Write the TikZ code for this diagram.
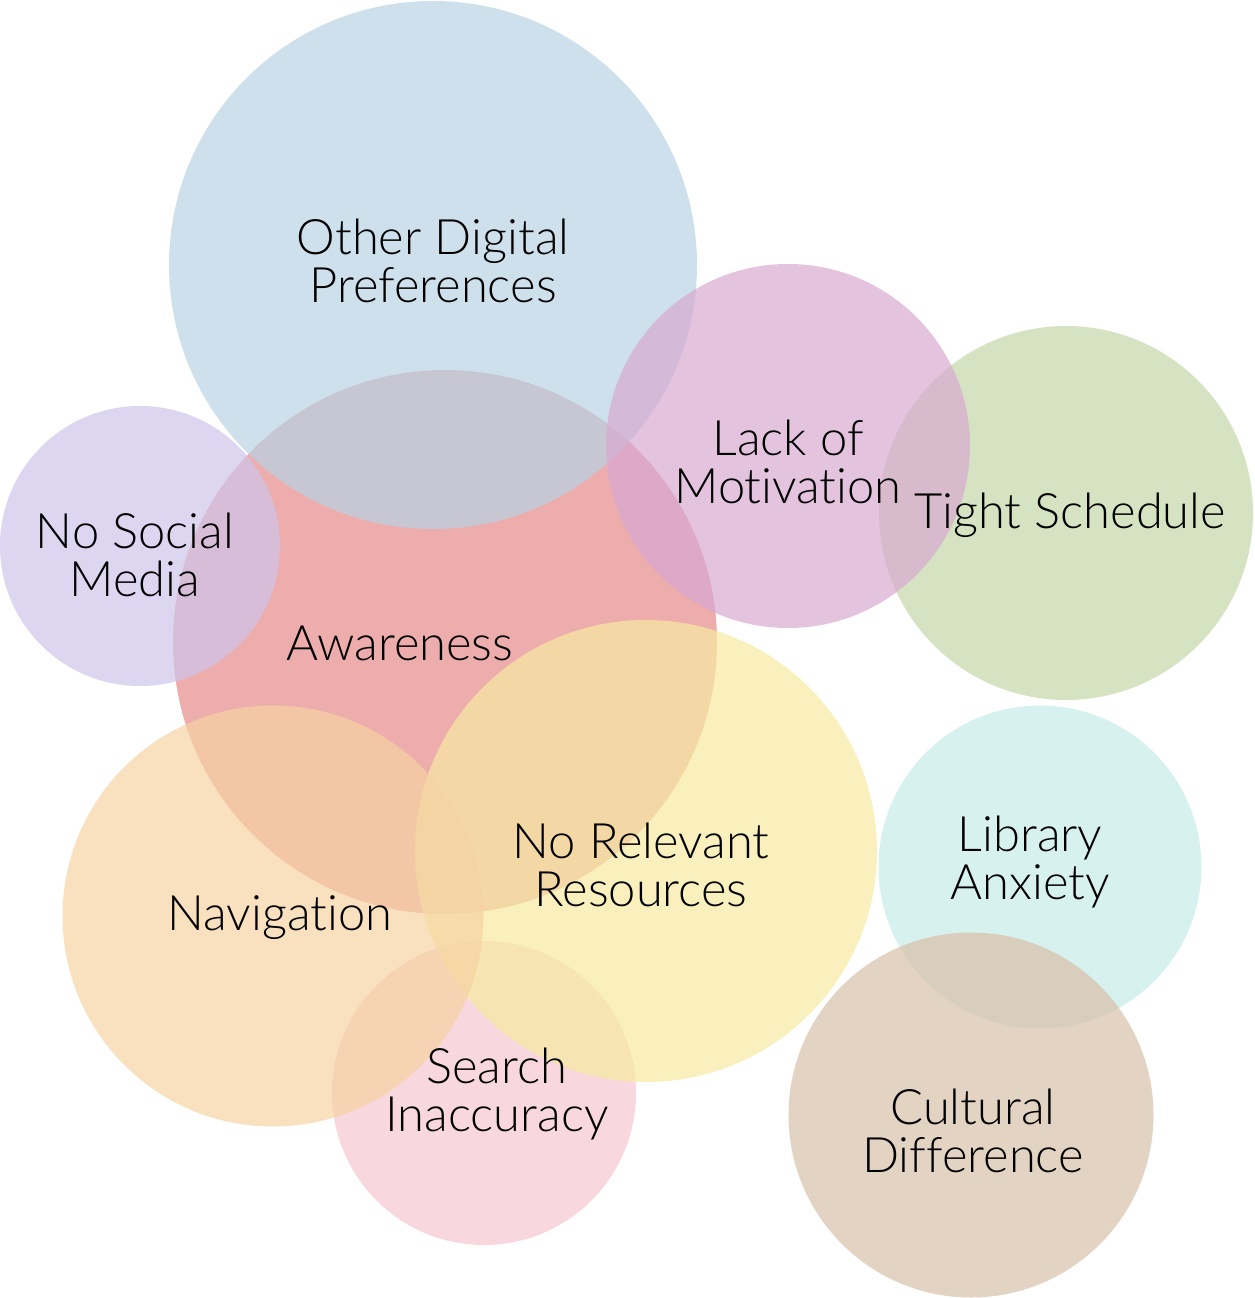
\documentclass[tikz,border=0pt]{standalone}
\usepackage{fontspec}
\setmainfont{Lato}[UprightFont=* Light, Ligatures=NoCommon]
\usepackage{xcolor}
\usetikzlibrary{positioning}
\definecolor{digitalcolor}{HTML}{B8D3E4}
\definecolor{awarecolor}{HTML}{E58A8A}
\definecolor{socialcolor}{HTML}{CEC4EA}
\definecolor{motivcolor}{HTML}{D8A9D1}
\definecolor{schedcolor}{HTML}{C4D7A9}
\definecolor{resourcecolor}{HTML}{F6EAA2}
\definecolor{navcolor}{HTML}{F6D3A2}
\definecolor{searchcolor}{HTML}{F5C7D0}
\definecolor{anxietycolor}{HTML}{C6EBE7}
\definecolor{culturecolor}{HTML}{D7C0A9}

\begin{document}
\begin{tikzpicture}[
    bubble/.style={circle, fill=#1, fill opacity=0.7, draw=none, inner sep=0pt},
    tag/.style={align=center, font=\fontsize{27.8}{27.4}\selectfont, text=black}
]
\useasboundingbox (0,0) rectangle (25.08,-25.96);

% Bubbles
\node[bubble=awarecolor, minimum size=10.88cm] (aware) at (8.90,-12.84) {};
\node[bubble=digitalcolor, minimum size=10.56cm] (digital) at (8.66,-5.30) {};
\node[bubble=socialcolor, minimum size=5.60cm] (social) at (2.80,-10.92) {};
\node[bubble=schedcolor, minimum size=7.48cm] (sched) at (21.32,-10.26) {};
\node[bubble=motivcolor, minimum size=7.28cm] (motiv) at (15.76,-8.92) {};
\node[bubble=searchcolor, minimum size=6.08cm] (search) at (9.68,-21.86) {};
\node[bubble=resourcecolor, minimum size=9.24cm] (resource) at (12.92,-17.02) {};
\node[bubble=navcolor, minimum size=8.42cm] (nav) at (5.46,-18.32) {};
\node[bubble=anxietycolor, minimum size=6.46cm] (anxiety) at (20.80,-17.34) {};
\node[bubble=culturecolor, minimum size=7.30cm] (culture) at (19.42,-22.30) {};

% Labels
\node[tag] (digitaltxt) at (8.66,-5.22) {Other Digital\\Preferences};
\node[tag] (motivtxt) at (15.76,-9.24) {Lack of\\Motivation};
\node[tag] (schedtxt) at (21.40,-10.30) {Tight Schedule};
\node[tag] (socialtxt) at (2.70,-11.10) {No Social\\Media};
\node[tag] (awaretxt) at (8.00,-12.86) {Awareness};
\node[tag] (resourcetxt) at (12.82,-17.30) {No Relevant\\Resources};
\node[tag] (navtxt) at (5.60,-18.36) {Navigation};
\node[tag] (searchtxt) at (9.94,-21.88) {Search\\Inaccuracy};
\node[tag] (anxietytxt) at (20.60,-17.24) {Library\\Anxiety};
\node[tag] (culturetxt) at (19.46,-22.62) {Cultural\\Difference};

\end{tikzpicture}
\end{document}
